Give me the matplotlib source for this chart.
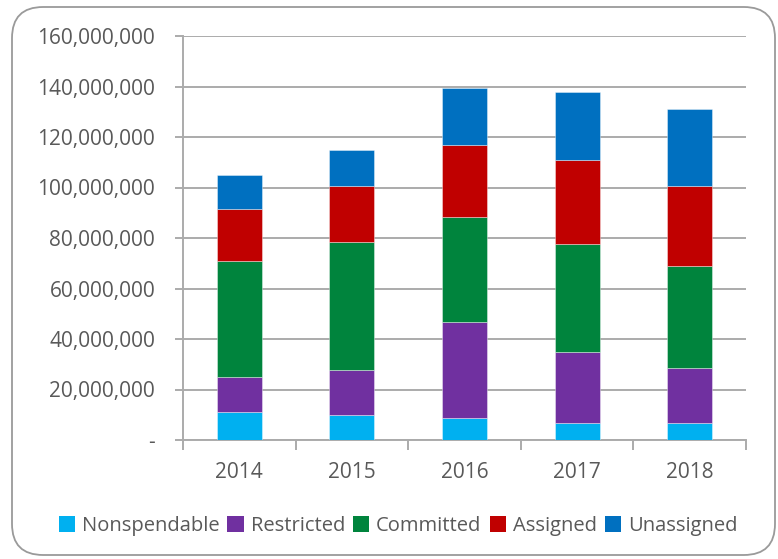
import matplotlib
matplotlib.use("Agg")
import matplotlib.pyplot as plt
from matplotlib.patches import FancyBboxPatch, Patch
from matplotlib.ticker import FuncFormatter
import numpy as np

years = ["2014", "2015", "2016", "2017", "2018"]
nonspendable = [11.2e6, 10.0e6, 8.7e6, 6.7e6, 6.9e6]
restricted = [13.6e6, 17.8e6, 38.1e6, 28.2e6, 21.5e6]
committed = [46.1e6, 50.8e6, 41.4e6, 42.9e6, 40.4e6]
assigned = [20.6e6, 21.8e6, 28.6e6, 32.9e6, 31.8e6]
unassigned = [13.4e6, 14.4e6, 22.6e6, 27.2e6, 30.5e6]

series_names = ["Nonspendable", "Restricted", "Committed", "Assigned", "Unassigned"]
colors = ["#00B0F0", "#7030A0", "#00843D", "#C00000", "#0070C0"]

plt.rcParams['font.family'] = ['Open Sans', 'DejaVu Sans']
text_color = "#595959"
grid_color = "#ABABAB"

fig = plt.figure(figsize=(7.78, 5.59), dpi=100)
border = FancyBboxPatch((12/778, 4/559), (775-12)/778, (552-4)/559,
                        boxstyle="round,pad=0,rounding_size=0.04",
                        transform=fig.transFigure, facecolor="white",
                        edgecolor="#9A9A9A", linewidth=1.3, zorder=-10,
                        mutation_aspect=778/559)
fig.patches.append(border)

ax = fig.add_axes([183/778, 1-440/559, (746-183)/778, (440-36)/559])
ax.set_facecolor("none")
ax.set_zorder(5)

x = np.arange(len(years))
bottom = np.zeros(len(years))
data = [nonspendable, restricted, committed, assigned, unassigned]
for vals, c, name in zip(data, colors, series_names):
    ax.bar(x, vals, width=0.4, bottom=bottom, color=c, label=name,
           edgecolor=(1, 1, 1, 0.45), linewidth=0.6, zorder=3)
    bottom += np.array(vals)

ax.set_xlim(-0.5, len(years) - 0.5)
ax.set_ylim(0, 160e6)
ax.set_yticks(np.arange(0, 160e6 + 1, 20e6))

def fmt(v, pos):
    if v == 0:
        return "-"
    return f"{int(v):,}"
ax.yaxis.set_major_formatter(FuncFormatter(fmt))
ax.grid(axis="y", color=grid_color, linewidth=1.4, zorder=0)
ax.set_axisbelow(True)

ax.set_xticks(x)
ax.set_xticklabels(years)
ax.set_xticks(np.arange(-0.5, len(years), 1.0), minor=True)
ax.tick_params(axis="x", which="major", length=0, pad=16, labelsize=15, labelcolor=text_color)
ax.tick_params(axis="x", which="minor", length=7, width=1.4, color=grid_color)
ax.tick_params(axis="y", length=6, width=1.4, color=grid_color, labelsize=15,
               labelcolor=text_color, pad=14)

for s in ["top", "right"]:
    ax.spines[s].set_visible(False)
for s in ["left", "bottom"]:
    ax.spines[s].set_color(grid_color)
    ax.spines[s].set_linewidth(1.4)

handles = [Patch(facecolor=c, edgecolor="none") for c in colors]
leg = fig.legend(handles, series_names, loc="center", bbox_to_anchor=(398/778, 1-526/559),
                 ncol=5, frameon=False, fontsize=14.5, handlelength=0.8, handleheight=0.8,
                 handletextpad=0.35, columnspacing=0.4, labelcolor=text_color)

fig.savefig("out.png", dpi=100)
